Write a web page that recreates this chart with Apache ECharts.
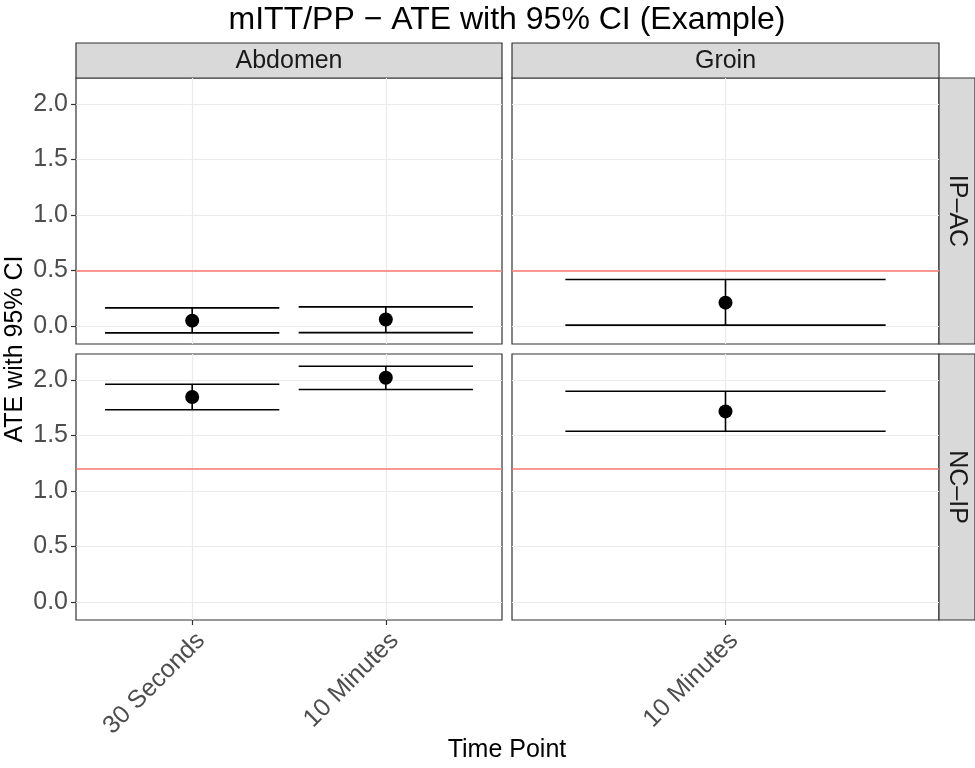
<!DOCTYPE html>
<html>
<head>
<meta charset="utf-8">
<script src="https://cdn.jsdelivr.net/npm/echarts@6/dist/echarts.min.js"></script>
<style>
  html, body { margin: 0; padding: 0; background: #fff; }
  #chart { width: 975px; height: 768px; }
</style>
</head>
<body>
<div id="chart"></div>
<script>
// facet labels
const siteNames = ["Abdomen", "Groin"]
const compNames = ["IP\u2013AC", "NC\u2013IP"]
// time points per site
const abdomenTimes = ["30 Seconds", "10 Minutes"]
const groinTimes = ["10 Minutes"]
// ATE estimates and 95% CI, per comparison / site
const ipacAbdomenEst = [0.05, 0.06]
const ipacAbdomenLow = [-0.06, -0.058]
const ipacAbdomenHigh = [0.165, 0.174]
const ipacGroinEst = [0.212]
const ipacGroinLow = [0.01]
const ipacGroinHigh = [0.42]
const ncipAbdomenEst = [1.845, 2.018]
const ncipAbdomenLow = [1.73, 1.913]
const ncipAbdomenHigh = [1.96, 2.122]
const ncipGroinEst = [1.716]
const ncipGroinLow = [1.538]
const ncipGroinHigh = [1.897]
// reference (margin) lines per comparison
const refLines = [0.5, 1.2]
const yTicks = [0, 0.5, 1, 1.5, 2]

const chart = echarts.init(document.getElementById("chart"), null, { renderer: "canvas" })
const FONT = "Liberation Sans"

// panel geometry
const colLeft = [76, 512]
const colWidth = [426, 427]
const rowTop = [78, 354]
const rowHeight = 266

const panels = [
  { row: 0, col: 0, times: abdomenTimes, est: ipacAbdomenEst, low: ipacAbdomenLow, high: ipacAbdomenHigh },
  { row: 0, col: 1, times: groinTimes, est: ipacGroinEst, low: ipacGroinLow, high: ipacGroinHigh },
  { row: 1, col: 0, times: abdomenTimes, est: ncipAbdomenEst, low: ncipAbdomenLow, high: ncipAbdomenHigh },
  { row: 1, col: 1, times: groinTimes, est: ncipGroinEst, low: ncipGroinLow, high: ncipGroinHigh }
]

const grid = [], xAxis = [], yAxis = [], series = []
panels.forEach((p, i) => {
  const idx = p.times.map((t, k) => k + 1)
  grid.push({
    left: colLeft[p.col], top: rowTop[p.row], width: colWidth[p.col], height: rowHeight,
    show: true, borderColor: "#333333", borderWidth: 1.2, backgroundColor: "#fff"
  })
  const bottom = p.row === 1
  xAxis.push({
    type: "value", gridIndex: i, min: 0.4, max: p.times.length + 0.6,
    axisLine: { show: false, onZero: false },
    axisTick: { show: bottom, customValues: idx, length: 5, lineStyle: { color: "#333333", width: 1.2 } },
    axisLabel: {
      show: bottom, customValues: idx, rotate: 45, margin: 8,
      align: "right", verticalAlign: "top",
      color: "#4D4D4D", fontSize: 25, fontFamily: FONT,
      formatter: (v) => p.times[Math.round(v) - 1]
    },
    splitLine: { show: true, lineStyle: { color: "#EBEBEB", width: 1.2 } }
  })
  const left = p.col === 0
  yAxis.push({
    type: "value", gridIndex: i, min: -0.16, max: 2.232,
    axisLine: { show: false, onZero: false },
    axisTick: { show: left, customValues: yTicks, length: 5, lineStyle: { color: "#333333", width: 1.2 } },
    axisLabel: {
      show: left, customValues: yTicks, margin: 8,
      color: "#4D4D4D", fontSize: 25, fontFamily: FONT,
      formatter: (v) => v.toFixed(1)
    },
    splitLine: { show: true, lineStyle: { color: "#EBEBEB", width: 1.2 } }
  })
  // error bars
  series.push({
    type: "custom", xAxisIndex: i, yAxisIndex: i, clip: false,
    data: idx.map((x, k) => [x, p.low[k], p.high[k]]),
    markLine: {
      silent: true, symbol: "none", label: { show: false },
      lineStyle: { color: "#F8766D", width: 1.5, type: "solid" },
      data: [{ yAxis: refLines[p.row] }]
    },
    renderItem: (params, api) => {
      const lo = api.coord([api.value(0), api.value(1)])
      const hi = api.coord([api.value(0), api.value(2)])
      const half = api.size([0.9, 0])[0] / 2
      const st = { stroke: "#000", lineWidth: 1.6 }
      return {
        type: "group",
        children: [
          { type: "line", shape: { x1: lo[0] - half, y1: lo[1], x2: lo[0] + half, y2: lo[1] }, style: st },
          { type: "line", shape: { x1: hi[0] - half, y1: hi[1], x2: hi[0] + half, y2: hi[1] }, style: st },
          { type: "line", shape: { x1: lo[0], y1: lo[1], x2: hi[0], y2: hi[1] }, style: st }
        ]
      }
    },
    z: 3
  })
  // point estimates
  series.push({
    type: "scatter", xAxisIndex: i, yAxisIndex: i,
    data: idx.map((x, k) => [x, p.est[k]]),
    symbol: "circle", symbolSize: 14,
    itemStyle: { color: "#000", opacity: 1 },
    z: 4
  })
})

// facet strips and titles
const graphic = []
siteNames.forEach((s, c) => {
  graphic.push({
    type: "rect", shape: { x: colLeft[c], y: 43, width: colWidth[c], height: 35 },
    style: { fill: "#D9D9D9", stroke: "#333333", lineWidth: 1.2 }
  })
  graphic.push({
    type: "text", x: colLeft[c] + colWidth[c] / 2, y: 61,
    style: { text: s, fill: "#1A1A1A", font: "25px '" + FONT + "'", align: "center", verticalAlign: "middle" }
  })
})
compNames.forEach((s, r) => {
  graphic.push({
    type: "rect", shape: { x: 939, y: rowTop[r], width: 36, height: rowHeight },
    style: { fill: "#D9D9D9", stroke: "#333333", lineWidth: 1.2 }
  })
  graphic.push({
    type: "text", x: 957, y: rowTop[r] + rowHeight / 2, rotation: -Math.PI / 2,
    style: { text: s, fill: "#1A1A1A", font: "25px '" + FONT + "'", align: "center", verticalAlign: "middle" }
  })
})
graphic.push({
  type: "text", x: 507, y: 20,
  style: { text: "mITT/PP \u2212 ATE with 95% CI (Example)", fill: "#000", font: "32px '" + FONT + "'", align: "center", verticalAlign: "middle" }
})
graphic.push({
  type: "text", x: 507, y: 750,
  style: { text: "Time Point", fill: "#000", font: "25px '" + FONT + "'", align: "center", verticalAlign: "middle" }
})
graphic.push({
  type: "text", x: 15, y: 349, rotation: Math.PI / 2,
  style: { text: "ATE with 95% CI", fill: "#000", font: "25px '" + FONT + "'", align: "center", verticalAlign: "middle" }
})

chart.setOption({
  animation: false,
  backgroundColor: "#fff",
  grid, xAxis, yAxis, series, graphic
})
</script>
</body>
</html>
